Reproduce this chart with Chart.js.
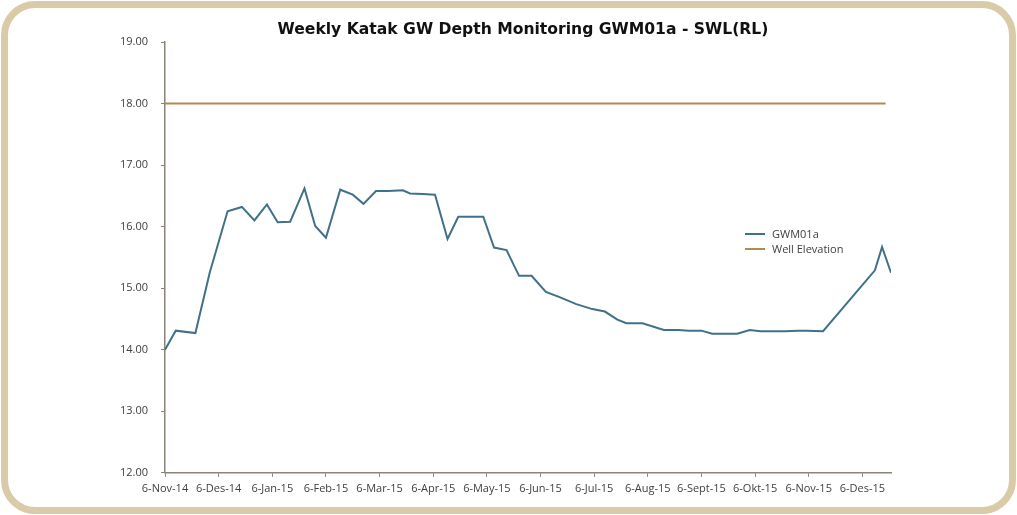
<!DOCTYPE html>
<html>
<head>
<meta charset="utf-8">
<title>Weekly Katak GW Depth Monitoring GWM01a - SWL(RL)</title>
<script src="https://cdn.jsdelivr.net/npm/chart.js@4.4.1/dist/chart.umd.min.js"></script>
<style>
  html, body { margin: 0; padding: 0; background: #fff; }
  #frame {
    position: absolute; left: 1px; top: 1px; width: 1015px; height: 513px;
    box-sizing: border-box; border: 7px solid #d9cba7; border-radius: 34px;
  }
  #wrap { position: absolute; left: 0; top: 0; width: 1017px; height: 515px; }
  #title {
    position: absolute; left: 273px; width: 500px; top: 19px; text-align: center;
    font-family: "DejaVu Sans", sans-serif; font-weight: bold; font-size: 15.6px;
    line-height: 20px; color: #111; white-space: nowrap;
  }
  #legend {
    position: absolute; left: 745px; top: 226px;
    font-family: "Open Sans", sans-serif; font-size: 11px; color: #404040;
  }
  #legend .item { display: flex; align-items: center; height: 15px; }
  #legend .swatch { width: 20px; height: 2px; margin-right: 7px; }
</style>
</head>
<body>
<div id="frame"></div>
<div id="wrap"><canvas id="chart"></canvas></div>
<div id="title">Weekly Katak GW Depth Monitoring GWM01a - SWL(RL)</div>
<div id="legend"></div>
<script>
// x values are days after 6-Nov-14
const dayOffsets = [0, 6, 17, 25, 35, 43, 50, 57, 63, 70, 78, 84, 90, 98, 105, 111, 118, 125, 133, 137,
  144, 151, 158, 164, 171, 178, 184, 191, 198, 205, 213, 221, 230, 239, 246, 253, 258, 267, 279, 287,
  293, 300, 306, 313, 320, 327, 333, 340, 347, 354, 359, 368, 397, 401, 406];
const gwm01a = [14.00, 14.31, 14.27, 15.25, 16.25, 16.32, 16.10, 16.36, 16.07, 16.08, 16.62, 16.01, 15.82, 16.60, 16.52, 16.37, 16.58, 16.58, 16.59, 16.54,
  16.53, 16.52, 15.80, 16.16, 16.16, 16.16, 15.66, 15.62, 15.20, 15.20, 14.94, 14.85, 14.74, 14.66, 14.62, 14.49, 14.43, 14.43, 14.32, 14.32,
  14.31, 14.31, 14.26, 14.26, 14.26, 14.32, 14.30, 14.30, 14.30, 14.31, 14.31, 14.30, 15.29, 15.67, 15.25];
const wellDays = [0, 403];
const wellElevation = [18.00, 18.00];
const tickLabels = ['6-Nov-14', '6-Des-14', '6-Jan-15', '6-Feb-15', '6-Mar-15', '6-Apr-15', '6-May-15',
  '6-Jun-15', '6-Jul-15', '6-Aug-15', '6-Sept-15', '6-Okt-15', '6-Nov-15', '6-Des-15'];
const tickStep = 30;

const axisColor = '#8a8377';
const textColor = '#404040';
const fontFamily = '"Open Sans", sans-serif';

const toPoints = (xs, ys) => xs.map((x, i) => ({ x: x, y: ys[i] }));

const datasets = [
  {
    label: 'GWM01a',
    data: toPoints(dayOffsets, gwm01a),
    borderColor: '#41708a',
    backgroundColor: '#41708a',
    borderWidth: 2,
    pointRadius: 0,
    tension: 0
  },
  {
    label: 'Well Elevation',
    data: toPoints(wellDays, wellElevation),
    borderColor: '#b08a4f',
    backgroundColor: '#b08a4f',
    borderWidth: 2,
    pointRadius: 0,
    tension: 0
  }
];

const chart = new Chart(document.getElementById('chart'), {
  type: 'line',
  data: { datasets: datasets },
  options: {
    responsive: true,
    maintainAspectRatio: false,
    animation: false,
    layout: { padding: { left: 0, right: 126, top: 42, bottom: 15 } },
    plugins: {
      legend: { display: false },
      tooltip: { enabled: false },
      title: { display: false }
    },
    scales: {
      x: {
        type: 'linear',
        min: 0,
        max: 406,
        afterBuildTicks: (scale) => {
          scale.ticks = tickLabels.map((_, i) => ({ value: i * tickStep }));
        },
        ticks: {
          autoSkip: false,
          maxRotation: 0,
          padding: 5,
          color: textColor,
          font: { family: fontFamily, size: 11 },
          callback: (value) => tickLabels[Math.round(value / tickStep)]
        },
        grid: { display: true, drawOnChartArea: false, drawTicks: true, tickLength: 4, color: axisColor },
        border: { display: true, color: axisColor, width: 1.5 }
      },
      y: {
        min: 12,
        max: 19,
        afterFit: (scale) => { scale.width = 165; },
        ticks: {
          stepSize: 1,
          padding: 13,
          color: textColor,
          font: { family: fontFamily, size: 11 },
          callback: (value) => value.toFixed(2)
        },
        grid: { display: true, drawOnChartArea: false, drawTicks: true, tickLength: 4, color: axisColor },
        border: { display: true, color: axisColor, width: 1.5 }
      }
    }
  }
});

// legend inside the plot, to the right like the original
const legendEl = document.getElementById('legend');
datasets.forEach((ds) => {
  const item = document.createElement('div');
  item.className = 'item';
  const sw = document.createElement('span');
  sw.className = 'swatch';
  sw.style.background = ds.borderColor;
  const txt = document.createElement('span');
  txt.textContent = ds.label;
  item.appendChild(sw);
  item.appendChild(txt);
  legendEl.appendChild(item);
});
</script>
</body>
</html>
